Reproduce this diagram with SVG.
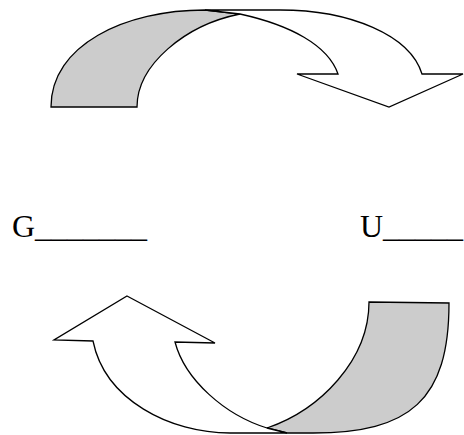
<svg xmlns="http://www.w3.org/2000/svg" width="464" height="435" viewBox="0 0 464 435">
<style>
.sh{fill:#cccccc;stroke:#000;stroke-width:1.3;stroke-linejoin:miter}
.wh{fill:#ffffff;stroke:#000;stroke-width:1.3;stroke-linejoin:miter}
.t{font-family:"Liberation Serif","Times New Roman",serif;font-size:32px;fill:#000}
</style>
<rect width="464" height="435" fill="#fff"/>
<g id="top-arrow">
<path class="sh" d="M51,107 C51,45 125,10 205,10 L240,14 C185,25 137,65 137,107 Z"/>
<path class="wh" d="M205,10 L280,10 C350,10 410,35 422,74 L463,74 L389,107 L297,74 L338,74 C328,45 290,25 240,14 Z"/>
</g>
<g id="bottom-arrow">
<path class="sh" d="M369,302 L449,303 C449,400 410,433 313,433 L287,433 L267,428 C320,410 369,360 369,302 Z"/>
<path class="wh" d="M127,296 L215,343 L175,342 C185,380 225,415 267,428 L287,433 L230,433 C170,433 105,400 93,341 L54,340 Z"/>
</g>
<g id="label-g"><text class="t" x="12" y="237">G_______</text></g>
<g id="label-u"><text class="t" x="360" y="237">U_____</text></g>
</svg>
